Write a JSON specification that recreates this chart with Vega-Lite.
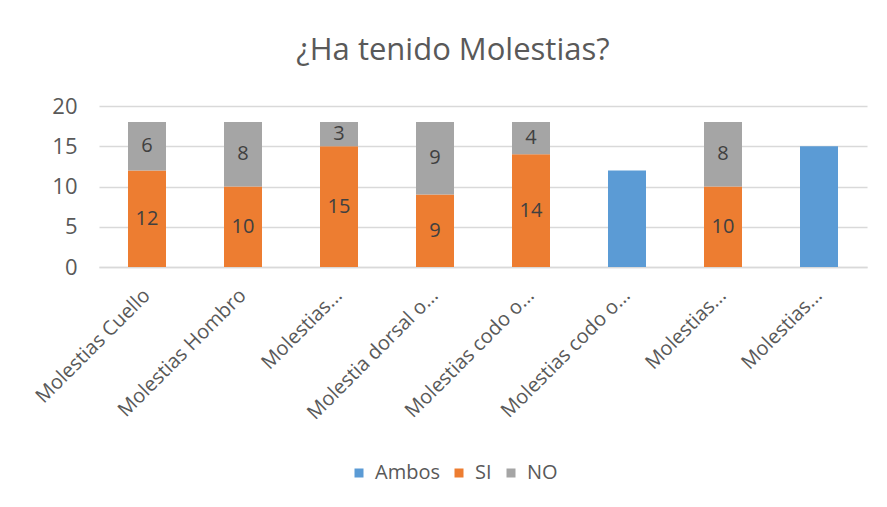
{
  "$schema": "https://vega.github.io/schema/vega-lite/v6.json",
  "autosize": {"type": "none"},
  "width": 768,
  "height": 161,
  "padding": {"left": 99, "top": 106, "right": 20, "bottom": 240},
  "background": "white",
  "title": {
    "text": "¿Ha tenido Molestias?",
    "font": "Open Sans",
    "fontSize": 31,
    "fontWeight": "normal",
    "color": "#595959",
    "anchor": "middle",
    "dx": -30,
    "offset": 28
  },
  "data": {
    "values": [
      {"cat": "Molestias Cuello", "serie": "SI", "v": 12},
      {"cat": "Molestias Cuello", "serie": "NO", "v": 6},
      {"cat": "Molestias Hombro", "serie": "SI", "v": 10},
      {"cat": "Molestias Hombro", "serie": "NO", "v": 8},
      {"cat": "Molestias...", "serie": "SI", "v": 15},
      {"cat": "Molestias...", "serie": "NO", "v": 3},
      {"cat": "Molestia dorsal o...", "serie": "SI", "v": 9},
      {"cat": "Molestia dorsal o...", "serie": "NO", "v": 9},
      {"cat": "Molestias codo o...", "serie": "SI", "v": 14},
      {"cat": "Molestias codo o...", "serie": "NO", "v": 4},
      {"cat": "Molestias codo o...\u200b", "serie": "Ambos", "v": 12},
      {"cat": "Molestias...\u200b", "serie": "SI", "v": 10},
      {"cat": "Molestias...\u200b", "serie": "NO", "v": 8},
      {"cat": "Molestias...\u200b\u200b", "serie": "Ambos", "v": 15}
    ]
  },
  "transform": [
    {"stack": "v", "groupby": ["cat"], "sort": [{"field": "serie", "order": "descending"}], "as": ["y0", "y1"]}
  ],
  "layer": [
    {
      "mark": {"type": "bar", "width": 38},
      "encoding": {
        "x": {
          "field": "cat",
          "type": "nominal",
          "sort": null,
          "title": null,
          "axis": {
            "labelAngle": -45,
            "labelFont": "Open Sans",
            "labelFontSize": 20,
            "labelColor": "#595959",
            "ticks": false,
            "domainColor": "#d9d9d9",
            "domainWidth": 1.5,
            "labelPadding": 25,
            "labelAlign": "right",
            "labelBaseline": "middle"
          }
        },
        "y": {
          "field": "y0",
          "type": "quantitative",
          "scale": {"domain": [0, 20]},
          "title": null,
          "axis": {
            "values": [0, 5, 10, 15, 20],
            "labelFont": "Open Sans",
            "labelFontSize": 22,
            "labelColor": "#595959",
            "ticks": false,
            "domain": false,
            "gridColor": "#d9d9d9",
            "gridWidth": 1.5,
            "labelPadding": 22
          }
        },
        "y2": {"field": "y1"},
        "color": {
          "field": "serie",
          "type": "nominal",
          "scale": {"domain": ["Ambos", "SI", "NO"], "range": ["#5b9bd5", "#ed7d31", "#a5a5a5"]},
          "legend": {
            "orient": "none",
            "direction": "horizontal",
            "legendX": 250,
            "legendY": 357,
            "title": null,
            "symbolType": "square",
            "symbolSize": 81,
            "symbolStrokeWidth": 0,
            "labelFont": "Open Sans",
            "labelFontSize": 20,
            "labelColor": "#595959",
            "columnPadding": 9,
            "labelOffset": 6
          }
        }
      }
    },
    {
      "transform": [
        {"filter": "datum.serie !== 'Ambos'"},
        {"fold": ["y0", "y1"], "as": ["k", "pos"]},
        {"aggregate": [{"op": "mean", "field": "pos", "as": "mid"}], "groupby": ["cat", "serie", "v"]}
      ],
      "mark": {"type": "text", "font": "Open Sans", "fontSize": 20, "color": "#404040", "baseline": "middle"},
      "encoding": {
        "x": {"field": "cat", "type": "nominal", "sort": null},
        "y": {"field": "mid", "type": "quantitative"},
        "text": {"field": "v", "type": "quantitative"}
      }
    }
  ],
  "config": {"view": {"stroke": null}}
}
